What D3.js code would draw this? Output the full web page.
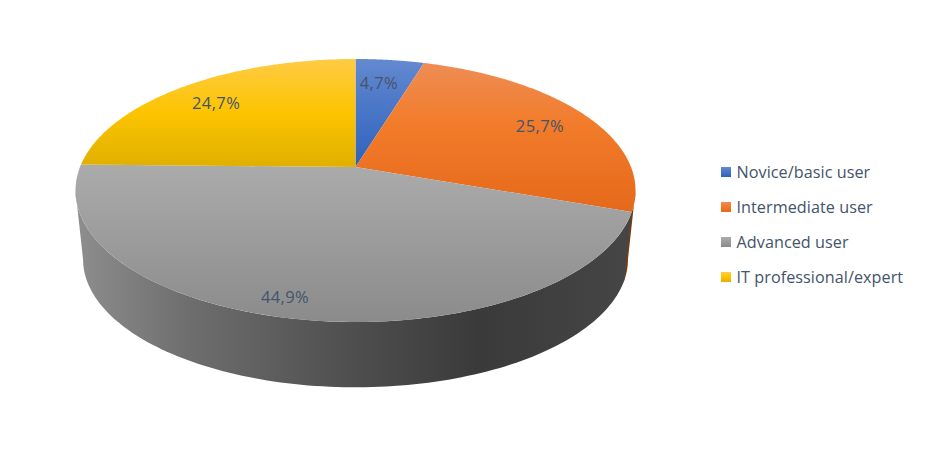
<!DOCTYPE html>
<html><head><meta charset="utf-8">
<script src="https://cdn.jsdelivr.net/npm/d3@7"></script>
<style>html,body{margin:0;padding:0;background:#fff}svg{display:block}text{font-family:"Open Sans",sans-serif;fill:#44546A}</style>
</head><body><div id="chart"></div>
<script>
const categories = ["Novice/basic user","Intermediate user","Advanced user","IT professional/expert"];
const values = [4.7,25.7,44.9,24.7];
const topStops = [
  [[0,"#6389D0"],[1,"#2E61BC"]],
  [[0,"#EE8D55"],[0.4,"#F27C2B"],[1,"#E5691A"]],
  [[0,"#ABABAB"],[1,"#8B8B8B"]],
  [[0,"#FFCB45"],[0.5,"#FCC400"],[1,"#E0B000"]]
];
const labelRadius = [0.764,0.793,0.885,0.784];
const labelTurn = [-1.2,0.6,3.9,-0.7];
const wallStops = [[0,"#8E8E8E"],[0.2,"#6E6E6E"],[0.5,"#4E4E4E"],[0.72,"#3A3A3A"],[1,"#464646"]];

const W=925,H=450;
const cx=355.5, cy=167, R=275.5, B=127.3, k=0.1787, depthScale=0.973, floorY=236.5;
const rad=d=>d*Math.PI/180;

const svg=d3.select("#chart").append("svg").attr("width",W).attr("height",H);
const defs=svg.append("defs");
const project=(a,r=1,base=false)=>{
  const u=r*Math.sin(a), v=-r*Math.cos(a), w=1-k*v, s=base?depthScale:1;
  return [cx+R*s*u/w,(base?floorY:cy)+B*s*v/w];
};
const sample=(a0,a1,base=false)=>d3.range(0,121).map(i=>project(a0+(a1-a0)*i/120,1,base));
const line=d3.line();
const arcs=d3.pie().sort(null).value(d=>d)(values);
const fmt=v=>v.toFixed(1).replace(".",",")+"%";

topStops.forEach((stops,i)=>{
  const g=defs.append("linearGradient").attr("id","top"+i).attr("x1",0).attr("x2",0).attr("y1",0).attr("y2",1);
  stops.forEach(s=>g.append("stop").attr("offset",s[0]).attr("stop-color",s[1]));
});
const wx=d3.extent(sample(0,2*Math.PI),d=>d[0]);
const wg=defs.append("linearGradient").attr("id","wall").attr("gradientUnits","userSpaceOnUse")
  .attr("x1",wx[0]).attr("x2",wx[1]).attr("y1",0).attr("y2",0);
wallStops.forEach(s=>wg.append("stop").attr("offset",s[0]).attr("stop-color",s[1]));

// Visible wall: between the tangent angles of the ellipse outline
const tan=Math.acos(-k);
const wallRight=tan, wallLeft=2*Math.PI-tan;
const seam=arcs[1].endAngle;
const wall=(a0,a1)=>line(sample(a0,a1).concat(sample(a0,a1,true).reverse()))+"Z";
svg.append("path").attr("d",wall(wallRight,seam+0.02)).attr("fill","#7A3A10");
svg.append("path").attr("d",wall(seam,wallLeft)).attr("fill","url(#wall)");

// Top faces
svg.selectAll("path.slice").data(arcs).join("path").attr("class","slice")
  .attr("d",d=>line([[cx,cy]].concat(sample(d.startAngle,d.endAngle)))+"Z")
  .attr("fill",(d,i)=>`url(#top${i})`);

// Data labels
svg.selectAll("text.lab").data(arcs).join("text").attr("class","lab")
  .each(function(d,i){
    const p=project((d.startAngle+d.endAngle)/2+rad(labelTurn[i]),labelRadius[i]);
    d3.select(this).attr("x",p[0]).attr("y",p[1]);
  })
  .attr("text-anchor","middle").attr("dominant-baseline","central")
  .attr("font-size",16.5).attr("letter-spacing",0.4).text(d=>fmt(d.data));

// Legend
const ly=d3.scalePoint().domain(categories).range([172,277]);
const lg=svg.selectAll("g.leg").data(categories).join("g").attr("class","leg")
  .attr("transform",d=>`translate(721,${ly(d)})`);
lg.append("rect").attr("x",0).attr("y",-5).attr("width",10).attr("height",10)
  .attr("fill",(d,i)=>`url(#top${i})`);
lg.append("text").attr("x",15.5).attr("y",0).attr("dominant-baseline","central")
  .attr("font-size",16.2).attr("letter-spacing",0.05).text(d=>d);
</script></body></html>
